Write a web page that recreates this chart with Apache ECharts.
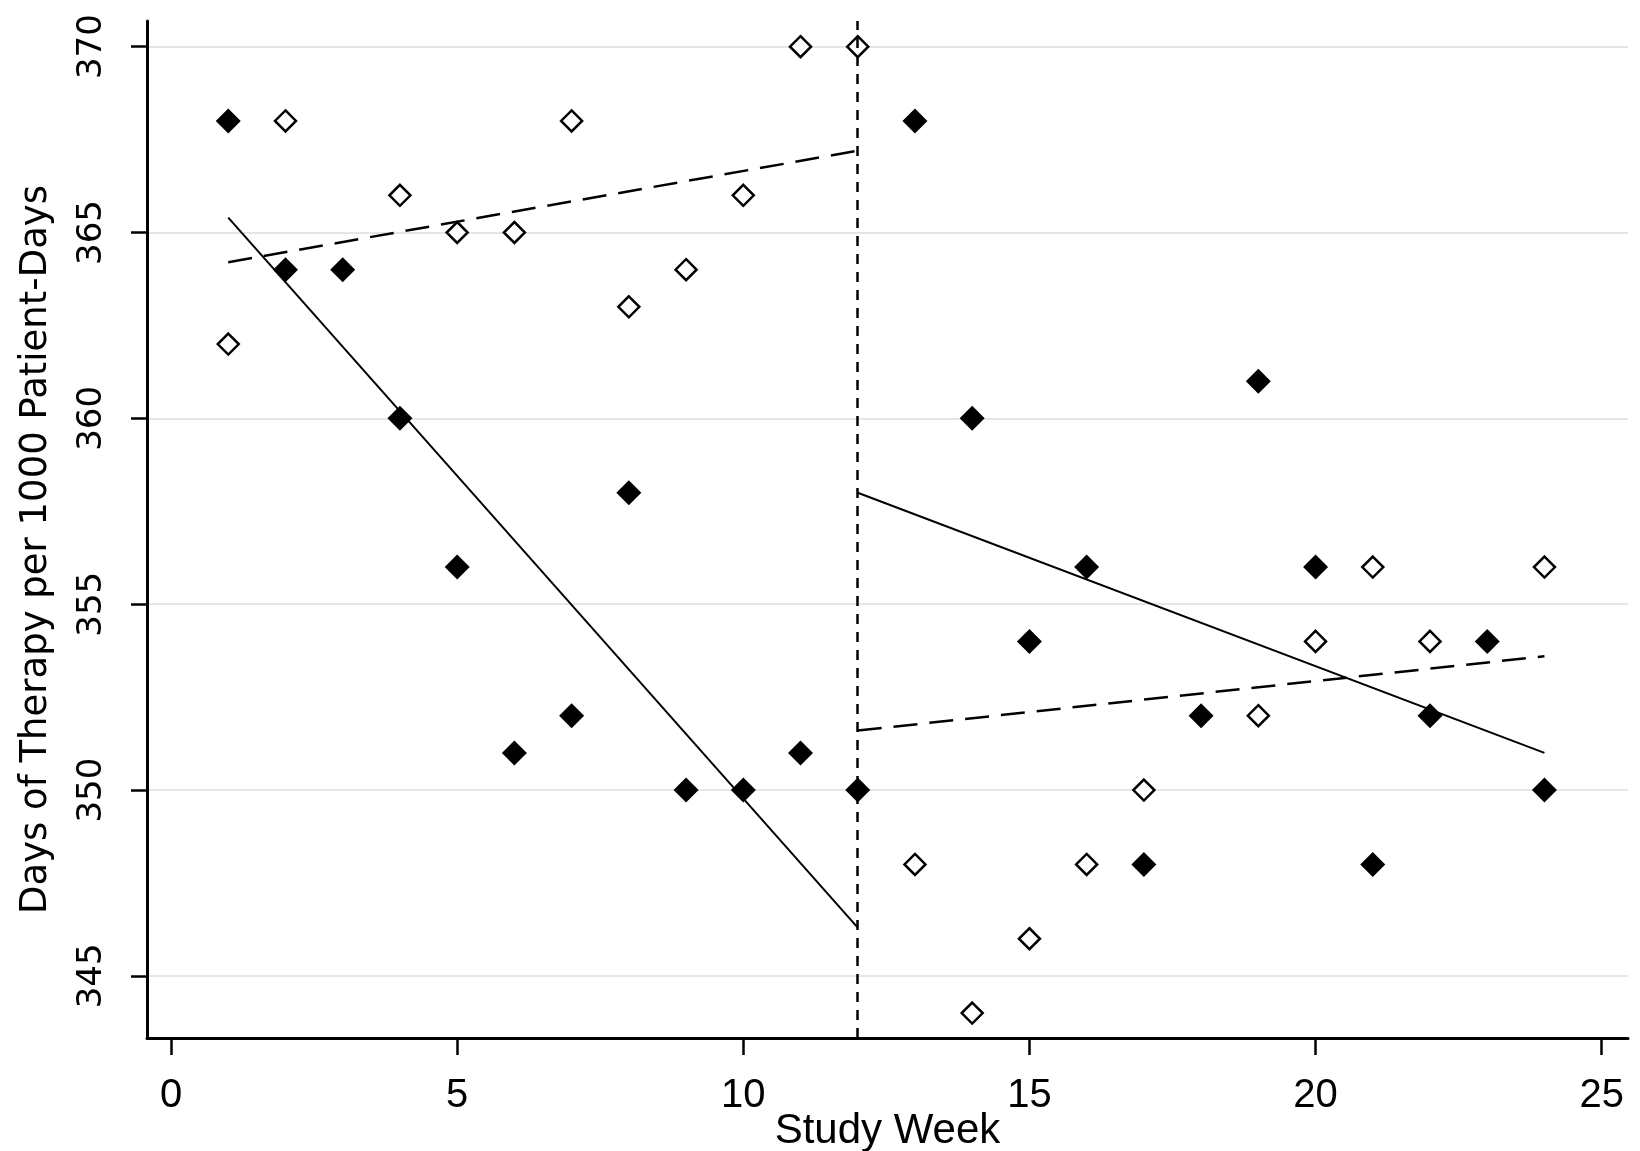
<!DOCTYPE html>
<html>
<head>
<meta charset="utf-8">
<script src="https://cdn.jsdelivr.net/npm/echarts@6/dist/echarts.min.js"></script>
<style>
  html, body { margin: 0; padding: 0; background: #fff; }
  #chart { width: 1640px; height: 1151px; }
</style>
</head>
<body>
<div id="chart"></div>
<script>
// ---- Data ----
const weeks = [1,2,3,4,5,6,7,8,9,10,11,12,13,14,15,16,17,18,19,20,21,22,23,24];
// filled diamonds
const filledValues = [368,364,364,360,356,351,352,358,350,350,351,350,368,360,354,356,348,352,361,356,348,352,354,350];
// hollow diamonds (null = not visible in the picture)
const hollowValues = [362,368,null,366,365,365,368,363,364,366,370,370,348,344,346,348,350,null,352,354,356,354,null,356];
// fitted segments (solid = filled group, dashed = hollow group)
const fitSolidPre  = [[1, 365.4], [12, 346.3]];
const fitSolidPost = [[12, 358.0], [24, 351.0]];
const fitDashPre   = [[1, 364.2], [12, 367.2]];
const fitDashPost  = [[12, 351.6], [24, 353.6]];
const interruptionWeek = 12;
const xTicks = [0, 5, 10, 15, 20, 25];
const yTicks = [345, 350, 355, 360, 365, 370];

const filledData = weeks.map((w, i) => [w, filledValues[i]]);
const hollowData = weeks.map((w, i) => [w, hollowValues[i]]).filter(d => d[1] !== null);

const chart = echarts.init(document.getElementById('chart'), null, { renderer: 'canvas' });

const fitLine = (data, dashed) => ({
  type: 'line',
  data: data,
  symbol: 'none',
  silent: true,
  z: 2,
  lineStyle: { color: '#000', width: dashed ? 2.5 : 2, type: dashed ? [24, 12] : 'solid' }
});

const option = {
  backgroundColor: '#fff',
  animation: false,
  grid: { left: 147, right: 12, top: 21, bottom: 113, containLabel: false, outerBoundsMode: 'none' },
  xAxis: {
    type: 'value',
    min: -0.42,
    max: 25.46,
    name: 'Study Week',
    nameLocation: 'middle',
    nameGap: 72,
    nameMoveOverlap: false,
    nameTextStyle: { fontFamily: 'Liberation Sans', fontSize: 42, color: '#000' },
    axisLine: { onZero: false, lineStyle: { color: '#000', width: 3 } },
    axisTick: { show: true, customValues: xTicks, length: 17, lineStyle: { color: '#000', width: 2.5 } },
    axisLabel: { customValues: xTicks, fontFamily: 'Liberation Sans', fontSize: 40, color: '#000', margin: 38 },
    splitLine: { show: false }
  },
  yAxis: {
    type: 'value',
    min: 343.33,
    max: 370.69,
    name: 'Days of Therapy per 1000 Patient-Days',
    nameLocation: 'middle',
    nameGap: 92,
    nameRotate: 90,
    nameMoveOverlap: false,
    nameTextStyle: { fontFamily: 'DejaVu Sans', fontSize: 37, color: '#000', padding: [0, 40, 0, 0] },
    axisLine: { onZero: false, lineStyle: { color: '#000', width: 3 } },
    axisTick: { show: true, customValues: yTicks, length: 16, lineStyle: { color: '#000', width: 2.5 } },
    axisLabel: { customValues: yTicks, rotate: 90, fontFamily: 'DejaVu Sans', fontSize: 34, color: '#000', margin: 38 },
    splitLine: { show: true, lineStyle: { color: '#e6e6e6', width: 2 } }
  },
  series: [
    Object.assign(fitLine(fitSolidPre, false), {
      markLine: {
        silent: true,
        symbol: 'none',
        label: { show: false },
        lineStyle: { color: '#000', width: 2.5, type: [10, 8] },
        data: [{ xAxis: interruptionWeek }]
      }
    }),
    fitLine(fitSolidPost, false),
    fitLine(fitDashPre, true),
    fitLine(fitDashPost, true),
    {
      type: 'scatter',
      data: hollowData,
      symbol: 'diamond',
      symbolSize: 21,
      z: 3,
      itemStyle: { color: '#fff', borderColor: '#000', borderWidth: 2.5, opacity: 1 }
    },
    {
      type: 'scatter',
      data: filledData,
      symbol: 'diamond',
      symbolSize: 25,
      z: 4,
      itemStyle: { color: '#000', opacity: 1 }
    }
  ]
};
chart.setOption(option);
</script>
</body>
</html>
